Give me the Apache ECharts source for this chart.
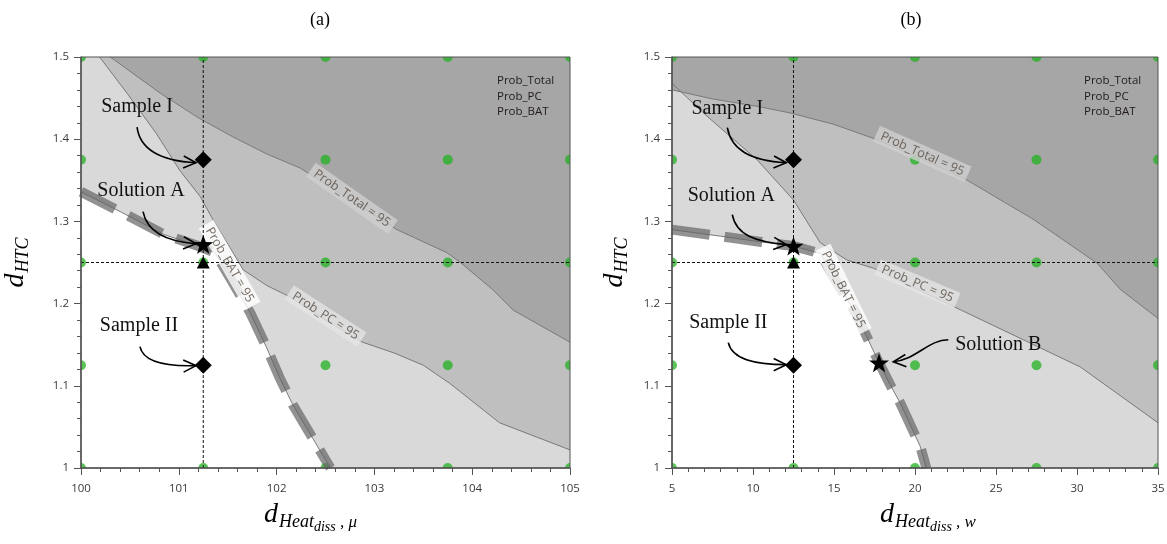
<!DOCTYPE html>
<html lang="en">
<head>
  <meta charset="UTF-8">
  <title>Prob contours</title>
  <script src="https://cdn.jsdelivr.net/npm/echarts@6/dist/echarts.min.js"></script>
  <style>
    html, body { margin: 0; padding: 0; background: #fff; }
    #main { width: 1167px; height: 544px; }
  </style>
</head>
<body>
  <div id="main"></div>
  <script>
    // axis ranges
    var xRangeA = [100, 105];
    var xRangeB = [5, 35];
    var yRange = [1, 1.5];

    // 95 % contours, panel (a)
    var batA = [[100, 1.336], [100.4, 1.312], [100.85, 1.284], [101.2, 1.27], [101.37, 1.262], [101.55, 1.226],
      [101.73, 1.189], [101.9, 1.146], [102.03, 1.11], [102.17, 1.076], [102.37, 1.036], [102.55, 1.0]];
    var pcA = [[100.19, 1.5], [100.47, 1.456], [100.77, 1.407], [101.01, 1.362], [101.22, 1.33], [101.35, 1.302],
      [101.66, 1.241], [101.9, 1.222], [102.14, 1.208], [102.5, 1.18], [102.88, 1.153], [103.2, 1.14],
      [103.5, 1.125], [103.77, 1.103], [104.28, 1.055], [105, 1.022]];
    var totalA = [[100.3, 1.5], [100.81, 1.456], [101.2, 1.426], [101.55, 1.403], [101.9, 1.382], [102.24, 1.365],
      [102.7, 1.33], [103.23, 1.29], [103.74, 1.262], [103.88, 1.25], [104.21, 1.217], [104.42, 1.192], [105, 1.153]];

    // 95 % contours, panel (b)
    var batB = [[5, 1.29], [8, 1.282], [10.5, 1.275], [12.5, 1.27], [14.16, 1.261], [15.2, 1.225], [16.3, 1.19],
      [17.78, 1.128], [18.5, 1.1], [19.09, 1.079], [20.33, 1.026], [20.7, 1.0]];
    var pcB = [[5, 1.468], [7.16, 1.428], [10.25, 1.375], [12.5, 1.326], [14.15, 1.274], [15.8, 1.253],
      [17.44, 1.243], [22.0, 1.2], [30.2, 1.123], [35, 1.055]];
    var totalB = [[5, 1.46], [7.5, 1.449], [10.25, 1.44], [12.29, 1.432], [15, 1.418], [17.44, 1.401],
      [20.3, 1.377], [23.23, 1.35], [27.35, 1.302], [31.25, 1.249], [32.69, 1.217], [35, 1.182]];

    // design points
    var gridXA = [100, 101.25, 102.5, 103.75, 105];
    var gridXB = [5, 12.5, 20, 27.5, 35];
    var gridY = [1, 1.125, 1.25, 1.375, 1.5];

    // samples (diamonds), solutions (stars), reference point (triangle)
    var samplesA = [[101.25, 1.375], [101.25, 1.125]];
    var solutionsA = [[101.25, 1.272]];
    var refA = [[101.25, 1.25]];
    var samplesB = [[12.5, 1.375], [12.5, 1.125]];
    var solutionsB = [[12.5, 1.27], [17.78, 1.128]];
    var refB = [[12.5, 1.25]];

    // contour labels: text, x, y, angle
    var contourLabelsA = [['Prob_Total = 95', 102.77, 1.328, -35], ['Prob_PC = 95', 102.5, 1.185, -33], ['Prob_BAT = 95', 101.52, 1.247, -60]];
    var contourLabelsB = [['Prob_Total = 95', 20.45, 1.382, -24], ['Prob_PC = 95', 20.15, 1.224, -23], ['Prob_BAT = 95', 15.58, 1.217, -64]];
    var labelBg = { 'Prob_Total = 95': '#d0d0d0', 'Prob_PC = 95': '#e4e4e4', 'Prob_BAT = 95': '#ffffff' };

    // annotations: text, text x/y, then bezier p0, c1, c2, p3 (data units)
    var notesA = [
      ['Sample I', 100.573, 1.4395, 100.573, 1.4148, 100.603, 1.3872, 100.808, 1.3738, 101.176, 1.3714],
      ['Solution A', 100.613, 1.3373, 100.634, 1.3118, 100.675, 1.2875, 100.879, 1.2753, 101.176, 1.2729],
      ['Sample II', 100.593, 1.1731, 100.603, 1.1476, 100.634, 1.1294, 100.859, 1.1233, 101.176, 1.1245]
    ];
    var notesB = [
      ['Sample I', 8.414, 1.4371, 8.414, 1.414, 8.66, 1.3872, 9.833, 1.3738, 12.056, 1.3714],
      ['Solution A', 8.66, 1.3313, 8.722, 1.3082, 8.969, 1.2826, 10.204, 1.2753, 12.056, 1.2717],
      ['Sample II', 8.475, 1.1768, 8.475, 1.1525, 8.722, 1.1318, 10.142, 1.1257, 12.056, 1.1257],
      ['Solution B', 25.142, 1.15, 22.056, 1.1561, 20.82, 1.1561, 20.08, 1.1318, 18.66, 1.1293]
    ];

    var SERIF = '"Liberation Serif", "Times New Roman", serif';
    var SANS = '"Open Sans", "Noto Sans", sans-serif';
    var STAR = 'path://M0,-10 L2.35,-3.24 9.51,-3.09 3.8,1.24 5.88,8.09 0,4 -5.88,8.09 -3.8,1.24 -9.51,-3.09 -2.35,-3.24 Z';

    function fill(gi, pts, color, z) {
      return {
        type: 'line', xAxisIndex: gi, yAxisIndex: gi, data: pts, showSymbol: false, silent: true, z: z,
        lineStyle: { width: 0, opacity: 0 },
        areaStyle: { color: color, opacity: 1, origin: 'end' }
      };
    }

    function contour(gi, pts) {
      return {
        type: 'line', xAxisIndex: gi, yAxisIndex: gi, data: pts, showSymbol: false, silent: true, z: 4,
        lineStyle: { color: '#7a7a7a', width: 1 }
      };
    }

    function dots(gi, xs) {
      var pts = [];
      xs.forEach(function (x) { gridY.forEach(function (y) { pts.push([x, y]); }); });
      return {
        type: 'custom', xAxisIndex: gi, yAxisIndex: gi, clip: true, silent: true, z: 3, data: pts,
        renderItem: function (params, api) {
          var c = api.coord([api.value(0), api.value(1)]);
          return { type: 'circle', shape: { cx: c[0], cy: c[1], r: 5 }, style: { fill: 'rgba(34,177,34,0.75)' } };
        }
      };
    }

    function labels(gi, list) {
      return {
        type: 'scatter', xAxisIndex: gi, yAxisIndex: gi, silent: true, z: 6, symbolSize: 1,
        itemStyle: { color: 'rgba(0,0,0,0)' },
        label: { show: true, position: 'inside', fontSize: 12.5, fontFamily: SANS, color: '#54483f', padding: [2, 5] },
        data: list.map(function (l) {
          return { value: [l[1], l[2]], label: { formatter: l[0], rotate: l[3], backgroundColor: labelBg[l[0]] } };
        })
      };
    }

    function markers(gi, pts, symbol, size) {
      return {
        type: 'scatter', xAxisIndex: gi, yAxisIndex: gi, silent: true, z: 8, data: pts,
        symbol: symbol, symbolSize: size, itemStyle: { color: '#000', opacity: 1 }
      };
    }

    function cross(gi, xr, x0, y0) {
      return [
        { type: 'line', xAxisIndex: gi, yAxisIndex: gi, data: [[x0, yRange[0]], [x0, yRange[1]]], showSymbol: false, silent: true, z: 7,
          lineStyle: { color: '#111', width: 1, type: [3, 2] } },
        { type: 'line', xAxisIndex: gi, yAxisIndex: gi, data: [[xr[0], y0], [xr[1], y0]], showSymbol: false, silent: true, z: 7,
          lineStyle: { color: '#111', width: 1, type: [3, 2] } }
      ];
    }

    function notes(gi, list) {
      return {
        type: 'custom', xAxisIndex: gi, yAxisIndex: gi, clip: false, silent: true, z: 9,
        data: list.map(function (a) { return a.slice(1); }),
        renderItem: function (params, api) {
          var a = list[params.dataIndex];
          var t = api.coord([a[1], a[2]]);
          var p0 = api.coord([a[3], a[4]]), p1 = api.coord([a[5], a[6]]);
          var p2 = api.coord([a[7], a[8]]), p3 = api.coord([a[9], a[10]]);
          var ang = Math.atan2(p3[1] - p2[1], p3[0] - p2[0]);
          var L = 14, w = 0.45;
          var h1 = [p3[0] - L * Math.cos(ang - w), p3[1] - L * Math.sin(ang - w)];
          var h2 = [p3[0] - L * Math.cos(ang + w), p3[1] - L * Math.sin(ang + w)];
          return {
            type: 'group', children: [
              { type: 'text', x: t[0], y: t[1], style: { text: a[0], font: '20px ' + SERIF, fill: '#111', align: 'center', verticalAlign: 'middle' } },
              { type: 'bezierCurve', shape: { x1: p0[0], y1: p0[1], cpx1: p1[0], cpy1: p1[1], cpx2: p2[0], cpy2: p2[1], x2: p3[0], y2: p3[1] },
                style: { stroke: '#000', lineWidth: 1.6, fill: null } },
              { type: 'polyline', shape: { points: [h1, p3, h2] }, style: { stroke: '#000', lineWidth: 1.6, fill: null } }
            ]
          };
        }
      };
    }

    function panel(gi, xr, bat, pc, total, xs, samples, sols, ref, labs, nts) {
      var batFill = bat.concat([[xr[1], yRange[0]]]);
      var out = [
        fill(gi, batFill, '#d9d9d9', 1),
        fill(gi, pc, '#bfbfbf', 1),
        fill(gi, total, '#a6a6a6', 1),
        dots(gi, xs),
        contour(gi, bat), contour(gi, pc), contour(gi, total),
        { type: 'line', xAxisIndex: gi, yAxisIndex: gi, data: bat, showSymbol: false, silent: true, z: 5,
          lineStyle: { color: 'rgba(100,100,100,0.7)', width: 10, type: [38, 15] } },
        labels(gi, labs),
        markers(gi, samples, 'diamond', 17),
        markers(gi, sols, STAR, [20, 19]),
        markers(gi, ref, 'triangle', [13, 12]),
        notes(gi, nts)
      ];
      return out.concat(cross(gi, xr, ref[0][0], ref[0][1]));
    }

    var richX = {
      d: { fontFamily: SERIF, fontStyle: 'italic', fontSize: 28, lineHeight: 30, verticalAlign: 'bottom', padding: [0, 1, 5, 0], color: '#000' },
      s: { fontFamily: SERIF, fontStyle: 'italic', fontSize: 18, lineHeight: 20, verticalAlign: 'bottom', padding: [0, 0, 3, 0], color: '#000' },
      ss: { fontFamily: SERIF, fontStyle: 'italic', fontSize: 14, lineHeight: 16, verticalAlign: 'bottom', color: '#000' },
      c: { fontFamily: SERIF, fontStyle: 'italic', fontSize: 17, lineHeight: 19, verticalAlign: 'bottom', padding: [0, 0, 3, 0], color: '#000' }
    };

    function xAxis(gi, xr, interval, unit, pad) {
      return {
        type: 'value', gridIndex: gi, min: xr[0], max: xr[1], interval: interval, z: 10,
        name: '{d|d}{s|Heat}{ss|diss}{c| , ' + unit + '}', nameLocation: 'middle', nameGap: 36,
        nameTextStyle: { rich: richX, padding: pad },
        axisLine: { show: true, lineStyle: { color: '#555', width: 1.5 } },
        axisTick: { show: true, length: 7, lineStyle: { color: '#555' } },
        minorTick: { show: true, splitNumber: 5, length: 4, lineStyle: { color: '#555' } },
        splitLine: { show: false },
        axisLabel: { margin: 15, fontSize: 11.5, fontFamily: SANS, color: '#3a3a3a' }
      };
    }

    function yAxis(gi, gap) {
      return {
        type: 'value', gridIndex: gi, min: yRange[0], max: yRange[1], interval: 0.1, z: 10,
        name: '{d|d}{s|HTC}', nameLocation: 'middle', nameRotate: 90, nameGap: gap,
        nameTextStyle: { rich: richX },
        axisLine: { show: true, lineStyle: { color: '#555', width: 1.5 } },
        axisTick: { show: true, length: 7, lineStyle: { color: '#555' } },
        minorTick: { show: true, splitNumber: 5, length: 4, lineStyle: { color: '#555' } },
        splitLine: { show: false },
        axisLabel: { margin: 12, fontSize: 11.5, fontFamily: SANS, color: '#3a3a3a' }
      };
    }

    var chart = echarts.init(document.getElementById('main'));
    chart.setOption({
      animation: false,
      grid: [
        { left: 81, top: 57, width: 489, height: 411, show: true, borderColor: '#555', borderWidth: 1, z: 10, outerBoundsMode: 'none' },
        { left: 672, top: 57, width: 486, height: 411, show: true, borderColor: '#555', borderWidth: 1, z: 10, outerBoundsMode: 'none' }
      ],
      xAxis: [xAxis(0, xRangeA, 1, 'μ', [0, 30, 0, 0]), xAxis(1, xRangeB, 5, 'w', [0, 0, 0, 26])],
      yAxis: [yAxis(0, 46), yAxis(1, 38)],
      graphic: [
        { type: 'text', x: 320, y: 20, style: { text: '(a)', font: '18px ' + SERIF, fill: '#000', align: 'center', verticalAlign: 'middle' } },
        { type: 'text', x: 911, y: 20, style: { text: '(b)', font: '18px ' + SERIF, fill: '#000', align: 'center', verticalAlign: 'middle' } },
        { type: 'text', x: 497, y: 73, z: 20, style: { text: 'Prob_Total\nProb_PC\nProb_BAT', font: '11.5px ' + SANS, lineHeight: 15.5, fill: '#221a1a' } },
        { type: 'text', x: 1084, y: 73, z: 20, style: { text: 'Prob_Total\nProb_PC\nProb_BAT', font: '11.5px ' + SANS, lineHeight: 15.5, fill: '#221a1a' } }
      ],
      series: panel(0, xRangeA, batA, pcA, totalA, gridXA, samplesA, solutionsA, refA, contourLabelsA, notesA)
        .concat(panel(1, xRangeB, batB, pcB, totalB, gridXB, samplesB, solutionsB, refB, contourLabelsB, notesB))
    });
  </script>
</body>
</html>
